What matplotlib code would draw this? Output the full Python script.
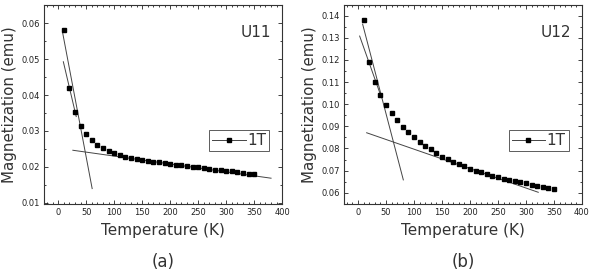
import matplotlib
matplotlib.use("Agg")
import matplotlib.pyplot as plt
from matplotlib.ticker import MultipleLocator

# temperatures (K)
temps = [10, 20, 30, 40, 50, 60, 70, 80, 90, 100, 110, 120, 130, 140, 150, 160, 170, 180,
         190, 200, 210, 220, 230, 240, 250, 260, 270, 280, 290, 300, 310, 320, 330, 340, 350]

# U11 magnetization (emu), 1 T
m_u11 = [0.0582, 0.0420, 0.0353, 0.0315, 0.0290, 0.0274, 0.0262, 0.0253, 0.0244, 0.0237,
         0.0232, 0.0227, 0.0224, 0.0221, 0.0218, 0.0216, 0.0214, 0.0212, 0.0210, 0.0208,
         0.0206, 0.0204, 0.0202, 0.0200, 0.0198, 0.0196, 0.0194, 0.0192, 0.0190, 0.0189,
         0.0187, 0.0185, 0.0183, 0.0181, 0.0180]

# U12 magnetization (emu), 1 T
m_u12 = [0.1382, 0.1191, 0.1102, 0.1042, 0.0996, 0.0962, 0.0929, 0.0898, 0.0873, 0.0852,
         0.0831, 0.0813, 0.0796, 0.0780, 0.0763, 0.0751, 0.0739, 0.0730, 0.0719, 0.0709,
         0.0700, 0.0692, 0.0685, 0.0677, 0.0670, 0.0664, 0.0658, 0.0653, 0.0649, 0.0643,
         0.0635, 0.0630, 0.0624, 0.0620, 0.0617]

# fitted straight lines (x pairs, y pairs)
fits_u11 = [([8, 60.5], [0.0572, 0.0139]),
            ([9, 32], [0.0493, 0.0340]),
            ([26, 380], [0.0246, 0.0168])]
fits_u12 = [([8.3, 81], [0.1362, 0.0658]),
            ([3, 42], [0.1308, 0.1030]),
            ([15.5, 322], [0.0871, 0.0602])]

panels = [
    dict(m=m_u11, fits=fits_u11, name="U11", tag="(a)", ylim=(0.0096, 0.0651),
         ymaj=0.01, yfmt="%.2f", left=0.0752),
    dict(m=m_u12, fits=fits_u12, name="U12", tag="(b)", ylim=(0.0549, 0.1448),
         ymaj=0.01, yfmt="%.2f", left=0.584),
]

fig = plt.figure(figsize=(5.89, 2.71), dpi=100)
txt = "#333333"

for p in panels:
    ax = fig.add_axes([p["left"], 0.2472, 0.404, 0.734])
    for xs, ys in p["fits"]:
        ax.plot(xs, ys, color="#444444", lw=0.7)
    ax.plot(temps, p["m"], ls="none", marker="s", ms=3, color="black")
    ax.set_xlim(-25, 400)
    ax.set_ylim(*p["ylim"])
    ax.xaxis.set_major_locator(MultipleLocator(50))
    ax.xaxis.set_minor_locator(MultipleLocator(10))
    ax.yaxis.set_major_locator(MultipleLocator(p["ymaj"]))
    ax.yaxis.set_minor_locator(MultipleLocator(p["ymaj"] / 2))
    ax.yaxis.set_major_formatter(plt.FormatStrFormatter(p["yfmt"]))
    ax.tick_params(which="both", direction="in", top=True, right=True,
                   labelsize=6, colors="#222222", width=0.6)
    ax.tick_params(which="major", length=3, pad=3)
    ax.tick_params(which="minor", length=1.5)
    for s in ax.spines.values():
        s.set_linewidth(0.8)
        s.set_color("#333333")
    ax.set_xlabel("Temperature (K)", fontsize=11, color=txt, labelpad=4)
    ax.set_ylabel("Magnetization (emu)", fontsize=10.8, color=txt, labelpad=3)
    ax.text(0.955, 0.86, p["name"], transform=ax.transAxes, ha="right", va="center",
            fontsize=11, color=txt)
    # legend handle: line + marker
    h, = ax.plot([], [], color="#444444", lw=0.7, marker="s", ms=3,
                 markerfacecolor="black", markeredgecolor="black")
    leg = ax.legend([h], ["1T"], loc="center right", bbox_to_anchor=(0.945, 0.32),
                    fontsize=11, frameon=True, fancybox=False, handlelength=2.2,
                    handletextpad=0.1, borderpad=0.2, borderaxespad=0)
    leg.get_frame().set_edgecolor("#333333")
    leg.get_frame().set_linewidth(0.7)
    for t in leg.get_texts():
        t.set_color(txt)
    fig.text(p["left"] + 0.202, 0.035, p["tag"], ha="center", va="center",
             fontsize=12, color=txt)

fig.savefig("out.png", dpi=100)
